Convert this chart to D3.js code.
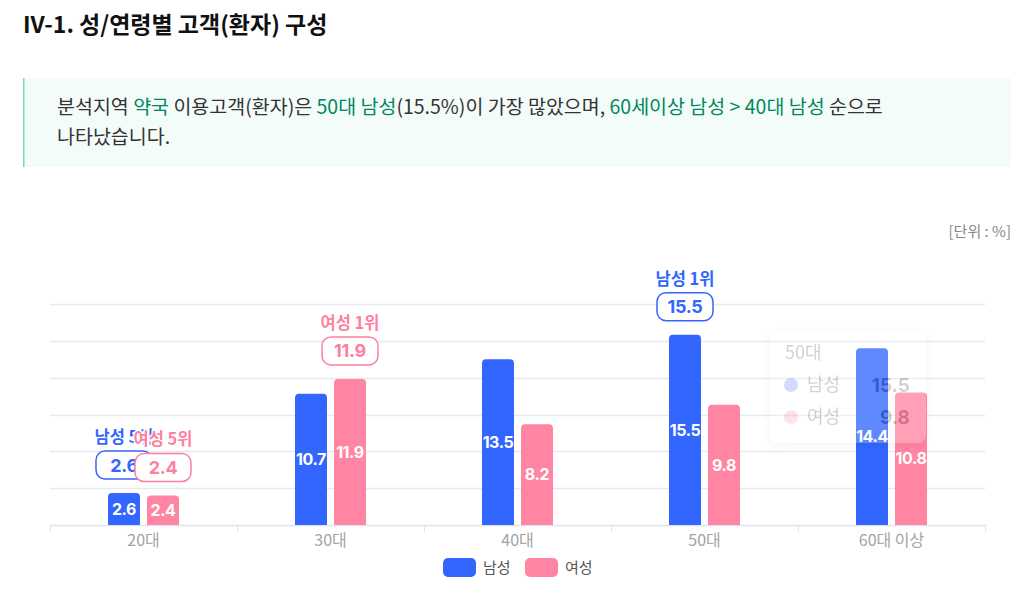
<!DOCTYPE html>
<html>
<head>
<meta charset="utf-8">
<script src="https://cdn.jsdelivr.net/npm/d3@7"></script>
<style>
  html, body { margin: 0; padding: 0; background: #fff; }
  svg { display: block; font-family: "Noto Sans CJK KR", "Noto Sans", sans-serif; }
</style>
</head>
<body>
<svg id="chart" width="1034" height="601"></svg>
<script>
// chart data
var categories = ['20대', '30대', '40대', '50대', '60대 이상'];
var seriesNames = ['남성', '여성'];
var maleValues = [2.6, 10.7, 13.5, 15.5, 14.4];
var femaleValues = [2.4, 11.9, 8.2, 9.8, 10.8];
var yTicks = [0, 3, 6, 9, 12, 15, 18];
var hoverIndex = 3; // category shown in the fading tooltip

var COLORS = { '남성': '#3366ff', '여성': '#ff85a2' };
var LABEL_COLORS = { '남성': '#3366ff', '여성': '#ff7fa0' };

var svg = d3.select('#chart');

var defs = svg.append('defs');
var shadow = defs.append('filter').attr('id', 'tipShadow')
  .attr('x', '-20%').attr('y', '-20%').attr('width', '140%').attr('height', '140%');
shadow.append('feDropShadow')
  .attr('dx', 0).attr('dy', 2).attr('stdDeviation', 4)
  .attr('flood-color', '#000').attr('flood-opacity', 0.25);

// header
svg.append('text')
  .attr('x', 23).attr('y', 33)
  .attr('font-size', 23).attr('font-weight', 700).attr('fill', '#111')
  .text('IV-1. 성/연령별 고객(환자) 구성');

// summary box
svg.append('rect')
  .attr('x', 23).attr('y', 78).attr('width', 988).attr('height', 89)
  .attr('fill', '#f3fcf8');
svg.append('rect')
  .attr('x', 23).attr('y', 78).attr('width', 1.5).attr('height', 89)
  .attr('fill', '#7fd8ae');

var line1 = [
  ['분석지역 ', 0], ['약국', 1], [' 이용고객(환자)은 ', 0], ['50대 남성', 1],
  ['(15.5%)', 0], ['이 가장 많았으며, ', 0], ['60세이상 남성 > 40대 남성', 1], [' 순으로', 0]
];
var t1 = svg.append('text')
  .attr('x', 57).attr('y', 114)
  .attr('font-size', 19.5).attr('fill', '#333');
t1.selectAll('tspan').data(line1).join('tspan')
  .attr('fill', function (d) { return d[1] ? '#00875f' : '#333'; })
  .text(function (d) { return d[0]; });
svg.append('text')
  .attr('x', 57).attr('y', 144)
  .attr('font-size', 19.5).attr('fill', '#333')
  .text('나타났습니다.');

svg.append('text')
  .attr('x', 1011).attr('y', 237)
  .attr('text-anchor', 'end')
  .attr('font-size', 15).attr('fill', '#888')
  .text('[단위 : %]');

// scales
var plotLeft = 50, plotRight = 985, plotTop = 304, plotBottom = 525;
var x0 = d3.scaleBand().domain(categories).range([plotLeft, plotRight]);
var x1 = d3.scaleBand().domain(seriesNames).range([-35.5, 35.5]).paddingInner(0.18);
var y = d3.scaleLinear().domain([0, 18]).range([plotBottom, plotTop]);

var rows = categories.map(function (c, i) {
  return { cat: c, values: [
    { name: '남성', value: maleValues[i] },
    { name: '여성', value: femaleValues[i] }
  ] };
});

// grid
svg.append('g').selectAll('line')
  .data(yTicks.slice(1)).join('line')
  .attr('x1', plotLeft).attr('x2', plotRight)
  .attr('y1', function (d) { return Math.round(y(d)) + 0.5; })
  .attr('y2', function (d) { return Math.round(y(d)) + 0.5; })
  .attr('stroke', '#e6e9f4').attr('stroke-width', 1.5);

// x axis
var xAxis = svg.append('g')
  .attr('transform', 'translate(0,' + plotBottom + ')')
  .call(d3.axisBottom(x0).tickSize(0).tickPadding(10));
xAxis.select('.domain').attr('stroke', '#dfe3ef').attr('stroke-width', 1.5);
xAxis.selectAll('text')
  .attr('font-size', 16).attr('fill', '#a3a3a3')
  .attr('font-family', '"Noto Sans CJK KR", sans-serif');
var edges = categories.map(function (c) { return x0(c); }).concat([plotRight]);
xAxis.selectAll('.sep').data(edges).join('line')
  .attr('class', 'sep')
  .attr('x1', function (d) { return d + 0.5; })
  .attr('x2', function (d) { return d + 0.5; })
  .attr('y1', 0).attr('y2', 7)
  .attr('stroke', '#dfe3ef');

// rounded-top bar path
function barPath(x, yTop, w, h, r) {
  r = Math.min(r, h);
  return 'M' + x + ',' + (yTop + h) +
    'V' + (yTop + r) +
    'Q' + x + ',' + yTop + ' ' + (x + r) + ',' + yTop +
    'H' + (x + w - r) +
    'Q' + (x + w) + ',' + yTop + ' ' + (x + w) + ',' + (yTop + r) +
    'V' + (yTop + h) + 'Z';
}

var groups = svg.append('g').selectAll('g')
  .data(rows).join('g')
  .attr('transform', function (d) { return 'translate(' + (x0(d.cat) + x0.bandwidth() / 2) + ',0)'; });

groups.selectAll('path')
  .data(function (d) { return d.values; }).join('path')
  .attr('d', function (d) {
    return barPath(x1(d.name), y(d.value), x1.bandwidth(), plotBottom - y(d.value), 4);
  })
  .attr('fill', function (d) { return COLORS[d.name]; });

groups.selectAll('text.val')
  .data(function (d) { return d.values; }).join('text')
  .attr('class', 'val')
  .attr('x', function (d) { return x1(d.name) + x1.bandwidth() / 2; })
  .attr('y', function (d) { return (y(d.value) + plotBottom) / 2; })
  .attr('dy', '0.36em')
  .attr('text-anchor', 'middle')
  .attr('font-size', 16).attr('font-weight', 700).attr('fill', '#fff')
  .attr('font-family', 'Inter, "Noto Sans CJK KR", sans-serif')
  .attr('letter-spacing', '-0.4')
  .text(function (d) { return d.value.toFixed(1); });

// rank annotations: 1st and last in each series
var annots = [];
seriesNames.forEach(function (name, si) {
  var vals = si === 0 ? maleValues : femaleValues;
  var sorted = vals.slice().sort(function (a, b) { return b - a; });
  vals.forEach(function (v, i) {
    var rank = sorted.indexOf(v) + 1;
    if (rank === 1 || rank === vals.length) {
      annots.push({ cat: categories[i], name: name, value: v, rank: rank });
    }
  });
});

var ann = svg.append('g').selectAll('g')
  .data(annots).join('g')
  .attr('transform', function (d) {
    var cx = x0(d.cat) + x0.bandwidth() / 2 + x1(d.name) + x1.bandwidth() / 2;
    return 'translate(' + cx + ',' + (y(d.value) - 28) + ')';
  });
ann.append('text')
  .attr('y', -28).attr('dy', '0.36em')
  .attr('text-anchor', 'middle')
  .attr('font-size', 16.5).attr('font-weight', 700)
  .attr('fill', function (d) { return LABEL_COLORS[d.name]; })
  .attr('stroke', '#fff').attr('stroke-width', 3).attr('paint-order', 'stroke')
  .text(function (d) { return d.name + ' ' + d.rank + '위'; });
ann.append('rect')
  .attr('x', -28).attr('y', -14).attr('width', 56).attr('height', 28).attr('rx', 9)
  .attr('fill', '#fff')
  .attr('stroke', function (d) { return LABEL_COLORS[d.name]; })
  .attr('stroke-width', 1.5);
ann.append('text')
  .attr('dy', '0.36em')
  .attr('text-anchor', 'middle')
  .attr('font-size', 18).attr('font-weight', 700)
  .attr('font-family', 'Inter, "Noto Sans CJK KR", sans-serif')
  .attr('letter-spacing', '-0.3')
  .attr('fill', function (d) { return LABEL_COLORS[d.name]; })
  .text(function (d) { return d.value.toFixed(1); });

// fading tooltip
var tip = svg.append('g')
  .attr('opacity', 0.22)
  .attr('transform', 'translate(770,331)');
tip.append('rect')
  .attr('width', 156).attr('height', 112).attr('rx', 8)
  .attr('fill', '#fff')
  .attr('filter', 'url(#tipShadow)');
tip.append('text')
  .attr('x', 15).attr('y', 22).attr('dy', '0.36em')
  .attr('font-size', 18).attr('fill', '#333')
  .text(categories[hoverIndex]);
var tipRows = tip.selectAll('g.row')
  .data(rows[hoverIndex].values).join('g')
  .attr('class', 'row')
  .attr('transform', function (d, i) { return 'translate(0,' + (54 + i * 32) + ')'; });
tipRows.append('circle')
  .attr('cx', 21).attr('r', 7)
  .attr('fill', function (d) { return COLORS[d.name]; });
tipRows.append('text')
  .attr('x', 37).attr('dy', '0.36em')
  .attr('font-size', 18).attr('fill', '#333')
  .text(function (d) { return d.name; });
tipRows.append('text')
  .attr('x', 140).attr('dy', '0.36em')
  .attr('text-anchor', 'end')
  .attr('font-size', 19).attr('font-weight', 700).attr('fill', '#333')
  .attr('font-family', 'Inter, "Noto Sans CJK KR", sans-serif')
  .text(function (d) { return d.value.toFixed(1); });

// legend
var legend = svg.append('g')
  .attr('transform', 'translate(443,558)');
var li = legend.selectAll('g').data(seriesNames).join('g')
  .attr('transform', function (d, i) { return 'translate(' + (i * 82) + ',0)'; });
li.append('rect')
  .attr('width', 33).attr('height', 19).attr('rx', 5)
  .attr('fill', function (d) { return COLORS[d]; });
li.append('text')
  .attr('x', 40).attr('y', 9.5).attr('dy', '0.36em')
  .attr('font-size', 15).attr('fill', '#555')
  .text(function (d) { return d; });
</script>
</body>
</html>
